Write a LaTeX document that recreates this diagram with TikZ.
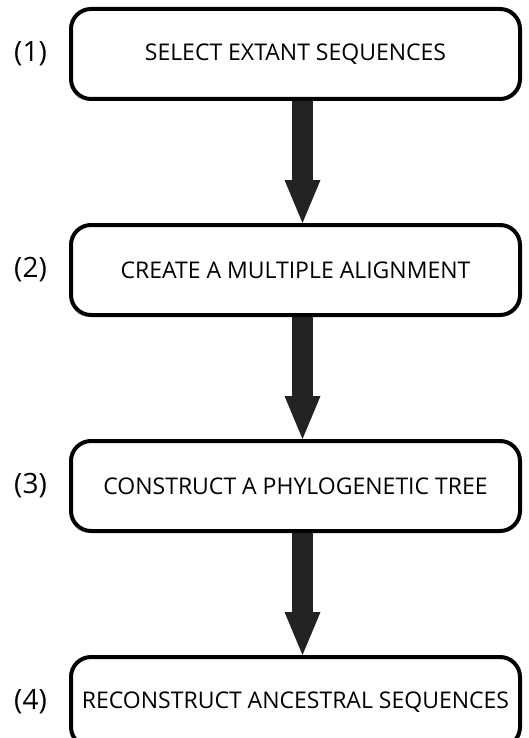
\documentclass[tikz,border=0pt]{standalone}
\usepackage{fontspec}
\setmainfont{Open Sans}
\usepackage{xcolor}
\usepackage{tikz}
\usetikzlibrary{arrows.meta,positioning}
\definecolor{arrowgray}{HTML}{222222}

\begin{document}
\begin{tikzpicture}[
  x=1pt, y=-1pt,
  node distance=122pt,
  box/.style={draw, line width=4pt, rounded corners=20pt, minimum width=449pt, minimum height=90pt, align=center, font=\fontsize{23}{27}\selectfont},
  num/.style={inner sep=0pt, font=\fontsize{28}{32}\selectfont},
  arr/.style={-{Triangle[length=43pt,width=36pt,line width=0pt]}, line width=21pt, draw=arrowgray}
]
\useasboundingbox (0,0) rectangle (529,738);
\node[box] (sel) at (295.5,54) {SELECT EXTANT SEQUENCES};
\node[box, below=of sel] (aln) {CREATE A MULTIPLE ALIGNMENT};
\node[box, below=of aln] (tree) {CONSTRUCT A PHYLOGENETIC TREE};
\node[box, below=of tree] (anc) {RECONSTRUCT ANCESTRAL SEQUENCES};

\node[num, left=22pt of sel] (n1) {(1)};
\node[num, left=22pt of aln] (n2) {(2)};
\node[num, left=22pt of tree] (n3) {(3)};
\node[num, left=22pt of anc] (n4) {(4)};

\draw[arr] ([xshift=7pt]sel.south) -- ([xshift=7pt]aln.north);
\draw[arr] ([xshift=7pt]aln.south) -- ([xshift=7pt]tree.north);
\draw[arr] ([xshift=7pt]tree.south) -- ([xshift=7pt]anc.north);
\end{tikzpicture}
\end{document}
